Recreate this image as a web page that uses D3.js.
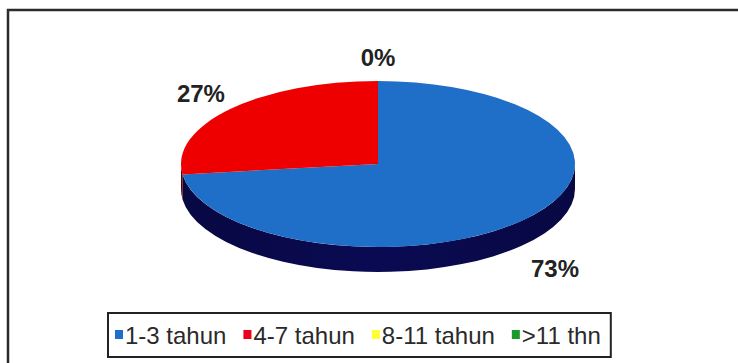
<!DOCTYPE html>
<html>
<head>
<meta charset="utf-8">
<script src="https://cdn.jsdelivr.net/npm/d3@7"></script>
<style>
  html, body { margin: 0; padding: 0; background: #fff; }
  svg { display: block; }
  text { font-family: "Liberation Sans", Arial, sans-serif; }
</style>
</head>
<body>
<svg id="chart" width="738" height="363"></svg>
<script>
// Lama kerja responden (persentase)
const categories = ["1-3 tahun", "4-7 tahun", "8-11 tahun", ">11 thn"];
const values = [73, 27, 0, 0];

// Slice palette: top face and side wall
const topColors  = ["#1f6ec8", "#ee0000", "#ffff00", "#1a9a2a"];
const sideColors = ["#0a0a50", "#5a0000", "#6a6a00", "#0a3a10"];
const keyColors  = ["#1f6ec8", "#e8001c", "#ffff33", "#1a9a2a"];

const svg = d3.select("#chart");

// Outer frame
svg.append("rect")
  .attr("x", 8).attr("y", 10)
  .attr("width", 800).attr("height", 420)
  .attr("fill", "#fff")
  .attr("stroke", "#2b2b2b")
  .attr("stroke-width", 2.5);

// Pie geometry (elliptical projection)
const cx = 378, cy = 164, rx = 197, ry = 83, depth = 25;

const pie = d3.pie().sort(null).value(d => d.value).startAngle(0).endAngle(2 * Math.PI);
const data = categories.map((c, i) => ({ name: c, value: values[i], i }));
const arcs = pie(data);

const pt = (a, dy = 0) => [cx + rx * Math.sin(a), cy - ry * Math.cos(a) + dy];

function topPath(d) {
  const p0 = pt(d.startAngle), p1 = pt(d.endAngle);
  const large = (d.endAngle - d.startAngle) > Math.PI ? 1 : 0;
  return `M${cx},${cy}L${p0}A${rx},${ry} 0 ${large} 1 ${p1}Z`;
}

function sidePath(d) {
  const s = Math.max(d.startAngle, Math.PI / 2);
  const e = Math.min(d.endAngle, 3 * Math.PI / 2);
  if (s >= e) return null;
  const a0 = pt(s), a1 = pt(e), b1 = pt(e, depth), b0 = pt(s, depth);
  const large = (e - s) > Math.PI ? 1 : 0;
  return `M${a0}A${rx},${ry} 0 ${large} 1 ${a1}L${b1}A${rx},${ry} 0 ${large} 0 ${b0}Z`;
}

// Side shading gradient
const defs = svg.append("defs");
arcs.forEach(d => {
  const g = defs.append("linearGradient").attr("id", "side" + d.data.i)
    .attr("x1", "0%").attr("x2", "100%").attr("y1", "0%").attr("y2", "0%");
  const c = d3.color(sideColors[d.data.i]);
  g.append("stop").attr("offset", "0%").attr("stop-color", c.darker(0.5));
  g.append("stop").attr("offset", "50%").attr("stop-color", c.brighter(0.1));
  g.append("stop").attr("offset", "100%").attr("stop-color", c.darker(0.5));
});

const visible = arcs.filter(d => d.endAngle - d.startAngle > 1e-6);

svg.append("g").selectAll("path")
  .data(visible.filter(d => sidePath(d)))
  .join("path")
  .attr("d", sidePath)
  .attr("fill", d => `url(#side${d.data.i})`);

svg.append("g").selectAll("path")
  .data(visible)
  .join("path")
  .attr("d", topPath)
  .attr("fill", d => topColors[d.data.i]);

// Percentage labels just outside each slice edge (one per distinct position)
const seen = new Set();
const labelArcs = arcs.filter(d => {
  const key = ((d.startAngle + d.endAngle) / 2).toFixed(3);
  if (seen.has(key)) return false;
  seen.add(key);
  return true;
});

const labelSize = 24, gap = 15;
const labels = svg.append("g").selectAll("text")
  .data(labelArcs)
  .join("text")
  .attr("text-anchor", "middle")
  .attr("font-size", labelSize)
  .attr("font-weight", "bold")
  .attr("fill", "#222")
  .text(d => d3.format(".0f")(d.data.value) + "%");

labels.each(function (d) {
  const a = (d.startAngle + d.endAngle) / 2;
  const front = Math.cos(a) < 0 ? depth * 1.35 : 0;
  const [ex, ey] = pt(a, front);
  const hw = this.getComputedTextLength() / 2, hh = labelSize * 0.36;
  const lx = ex + Math.sin(a) * (hw + gap);
  const ly = ey - Math.cos(a) * (hh + gap);
  d3.select(this).attr("x", lx).attr("y", ly + hh);
});

// Legend
const legend = svg.append("g");
const box = legend.append("rect")
  .attr("x", 108).attr("y", 313)
  .attr("height", 44)
  .attr("fill", "#fff")
  .attr("stroke", "#222")
  .attr("stroke-width", 2);

let x = 115;
const ky = 335;
categories.forEach((c, i) => {
  legend.append("rect")
    .attr("x", x).attr("y", ky - 5)
    .attr("width", 8).attr("height", 9)
    .attr("fill", keyColors[i]);
  const t = legend.append("text")
    .attr("x", x + 10).attr("y", ky + 8.5)
    .attr("font-size", 24)
    .attr("fill", "#2a2a2a")
    .text(c);
  x += 10 + t.node().getComputedTextLength() + 17;
});
box.attr("width", x - 108 - 7);
</script>
</body>
</html>
